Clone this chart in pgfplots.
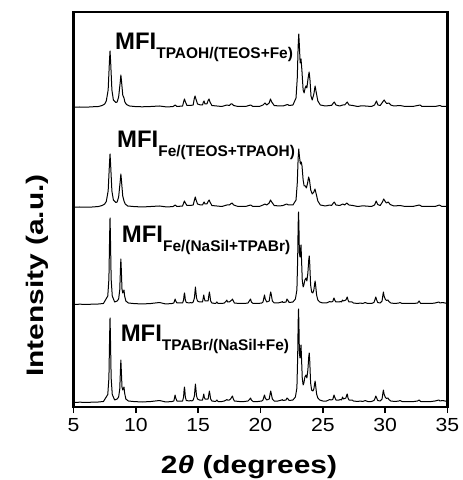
\documentclass[border=0pt]{standalone}
\usepackage{fontspec}
\setmainfont{Liberation Sans}
\usepackage{pgfplots}
\pgfplotsset{compat=1.18}
\usetikzlibrary{calc}

\newcommand{\lab}[2]{{\fontsize{24}{24}\selectfont\bfseries #1\raisebox{-9bp}{\fontsize{15.5}{16}\selectfont #2}}}

\begin{document}
\begin{tikzpicture}
\begin{axis}[
  name=ax,
  scale only axis,
  width=374bp, height=395bp,
  xmin=5, xmax=35, ymin=0, ymax=395,
  xtick={5,10,...,35},
  ytick=\empty,
  xtick pos=bottom,
  tick align=outside,
  major tick length=6bp,
  every tick/.style={black, line width=1.6bp},
  axis line style={line width=2.6bp},
  /pgf/number format/assume math mode=true,
  xticklabel={\scalebox{1.12}[1]{\pgfmathprintnumber{\tick}}},
  xticklabel style={font=\fontsize{19}{20}\selectfont, yshift=-2bp},
  clip mode=individual,
  every axis plot/.append style={black, line width=1bp, line join=round},
]

% MFI TPAOH/(TEOS+Fe)
\addplot[y filter/.expression={y+299}] coordinates {
(5,0.8)(5.5,1)(6,0.8)(6.5,1.2)(7,1.5)(7.3,2.5)(7.5,4)(7.63,7)(7.78,18)(7.88,46)(7.93,57)(7.98,46)(8.08,18)(8.2,8)(8.4,5.5)(8.5,6)(8.62,11)(8.75,26)(8.8,33)(8.85,27)(8.95,13)(9.05,10)(9.12,6)(9.25,3.5)(9.5,2)(9.9,1.5)(10.5,1.2)(11.2,1.5)(11.9,2)(12.5,1)(13.0,1.5)(13.15,3)(13.3,1.5)(13.75,2)(13.85,7)(13.9,9)(13.95,7)(14.1,2.5)(14.35,2.5)(14.6,3)(14.68,9)(14.75,12)(14.82,9)(14.95,4)(15.2,3)(15.35,3)(15.42,6)(15.47,7)(15.55,4)(15.7,4)(15.8,7.5)(15.87,9)(15.95,6)(16.1,2.5)(16.5,2)(16.9,1.5)(17.3,3)(17.5,2.5)(17.62,4)(17.72,4)(17.85,2.5)(18.2,1.5)(18.8,1.5)(19.2,3)(19.4,1.5)(19.9,1.5)(20.2,3)(20.36,5)(20.5,3)(20.7,5)(20.8,9)(20.9,6)(21.1,2.5)(21.5,2)(21.8,2)(22.17,3.5)(22.3,2.5)(22.6,3)(22.85,10)(22.95,30)(23.02,62)(23.07,74)(23.12,62)(23.18,45)(23.25,49)(23.32,38)(23.42,18)(23.5,15)(23.58,20)(23.65,22)(23.72,20)(23.82,30)(23.9,36)(23.97,28)(24.05,12)(24.15,8)(24.28,14)(24.38,22)(24.45,17)(24.6,7)(24.8,3)(25.2,2)(25.57,2.5)(25.7,2.5)(25.85,5)(25.92,6)(26.05,3)(26.35,2)(26.6,3)(26.75,3)(26.96,6)(27.1,3)(27.4,2.5)(27.8,1.5)(28.0,2)(28.4,2)(28.9,1.5)(29.15,3)(29.3,7)(29.42,3)(29.6,2.5)(29.8,6)(29.92,8)(30.02,6)(30.12,4.5)(30.3,5)(30.45,3)(30.7,2)(31.2,2.5)(31.6,1.5)(32.2,1.5)(32.8,3)(32.95,1.5)(33.5,1.5)(34.0,1.5)(34.4,2.5)(34.55,1.5)(35,1.5)
};

% MFI Fe/(TEOS+TPAOH)
\addplot[y filter/.expression={y+199}] coordinates {
(5,0.8)(5.5,1)(6,0.8)(6.5,1)(7,1.5)(7.3,2.5)(7.5,4)(7.63,6.5)(7.78,17)(7.88,43)(7.93,54)(7.98,43)(8.08,17)(8.2,8)(8.4,5.5)(8.5,6)(8.62,11)(8.75,27)(8.8,34)(8.85,27)(8.95,12)(9.05,7)(9.15,4)(9.35,2)(9.8,1.5)(10.5,1)(11.2,1.5)(11.9,2)(12.5,1)(13.0,1.5)(13.15,3)(13.3,1.5)(13.75,2)(13.85,5.5)(13.9,7)(13.95,5.5)(14.1,2.5)(14.35,2.5)(14.6,3)(14.7,8)(14.77,11)(14.83,8)(14.95,4)(15.2,3)(15.35,3)(15.43,5)(15.48,6)(15.55,4)(15.7,4)(15.8,6.5)(15.88,8)(15.95,6)(16.1,2.5)(16.5,2)(16.9,1.5)(17.3,3)(17.5,3)(17.65,4.5)(17.72,5)(17.85,3)(18.2,1.5)(18.8,1.5)(19.2,3)(19.4,1.5)(19.9,1.5)(20.2,3)(20.35,4)(20.5,3)(20.7,5)(20.8,8)(20.9,6)(21.1,2.5)(21.5,2)(21.8,2.5)(22.1,4)(22.25,3)(22.6,3)(22.85,8)(22.95,25)(23.02,50)(23.07,59)(23.12,52)(23.2,44)(23.27,46)(23.33,42)(23.42,28)(23.5,22)(23.6,22)(23.68,20)(23.78,25)(23.86,31)(23.93,28)(24.03,18)(24.15,14)(24.28,16)(24.37,19)(24.45,15)(24.6,7)(24.8,3)(25.2,2)(25.55,3)(25.7,2.5)(25.85,5)(25.92,6)(26.05,3)(26.35,2.5)(26.6,4)(26.75,3)(26.92,5)(27.1,3)(27.4,2.5)(27.8,1.5)(28.1,2)(28.4,2)(28.9,1.5)(29.15,3)(29.28,7)(29.4,3.5)(29.6,2.5)(29.78,6)(29.88,9)(29.98,7)(30.1,5)(30.25,6)(30.4,3.5)(30.7,2)(31.2,2.5)(31.6,1.5)(32.2,1.5)(32.75,3)(32.95,1.5)(33.5,1.5)(34.0,1.5)(34.35,3)(34.55,1.5)(35,1.5)
};

% MFI Fe/(NaSil+TPABr)
\addplot[y filter/.expression={y+102}] coordinates {
(5,0.5)(5.5,0.8)(6,0.6)(6.5,0.8)(7,1)(7.4,1.5)(7.75,9)(7.84,26)(7.9,70)(7.93,87)(7.96,70)(8.02,26)(8.11,9)(8.3,3)(8.5,4)(8.62,6)(8.71,15)(8.77,37)(8.8,46)(8.83,37)(8.89,16)(8.95,12)(9.0,13)(9.05,15)(9.1,9)(9.2,4)(9.4,2)(9.8,1.5)(10.5,1)(11.2,1.5)(11.9,2.5)(12.4,1)(12.9,1.5)(13.05,2)(13.1,4)(13.15,6)(13.2,4)(13.3,2)(13.75,2)(13.83,5)(13.87,10)(13.9,12)(13.93,10)(13.97,5)(14.05,2.5)(14.3,2)(14.4,2.5)(14.5,2)(14.6,3)(14.7,7)(14.75,14)(14.78,18)(14.81,14)(14.87,7)(14.95,4)(15.1,3)(15.35,3)(15.42,8)(15.45,10)(15.49,7)(15.55,4)(15.8,4)(15.86,10)(15.9,13)(15.94,10)(16.0,4)(16.1,2)(16.4,1.5)(16.5,3)(16.6,1.5)(16.9,1.5)(17.1,2)(17.25,4)(17.3,5)(17.35,3)(17.5,3)(17.6,4)(17.7,5)(17.75,6)(17.82,4)(17.9,2)(18.3,1.5)(18.7,1.5)(19.0,2)(19.15,5)(19.2,6)(19.27,3)(19.4,1.5)(19.8,1.5)(20.1,2)(20.2,3)(20.27,7)(20.32,10)(20.38,6)(20.5,3)(20.7,4)(20.77,10)(20.82,13)(20.87,10)(20.95,4)(21.1,2)(21.4,2)(21.7,3)(21.75,3.5)(21.8,2.5)(22.05,3)(22.12,6)(22.18,5)(22.3,2.5)(22.6,3)(22.8,6)(22.92,15)(22.98,45)(23.02,80)(23.05,93)(23.08,80)(23.12,52)(23.17,48)(23.21,55)(23.25,60)(23.29,46)(23.35,25)(23.42,18)(23.48,20)(23.56,25)(23.65,27)(23.72,24)(23.8,32)(23.87,45)(23.91,49)(23.95,41)(24.02,20)(24.1,13)(24.2,12)(24.28,15)(24.34,21)(24.38,24)(24.42,20)(24.5,10)(24.6,5)(24.75,3)(25.0,2)(25.3,2)(25.55,3.5)(25.65,3)(25.8,3.5)(25.86,6)(25.9,7)(25.95,5)(26.05,3)(26.3,3)(26.4,3.5)(26.5,3)(26.58,5)(26.65,4)(26.85,5)(26.92,7)(26.96,8)(27.02,5)(27.1,3)(27.35,3)(27.45,2)(27.8,1.5)(28.0,2)(28.2,1.5)(28.4,2.5)(28.6,1.5)(28.9,1.5)(29.1,2.5)(29.2,6)(29.25,8)(29.32,5)(29.4,2.5)(29.6,2)(29.75,4)(29.82,10)(29.86,13)(29.91,9)(30.0,6)(30.1,4.5)(30.22,5)(30.3,3.5)(30.45,2)(30.8,1.5)(31.1,2)(31.2,2.5)(31.35,1.5)(31.8,1.5)(32.3,1.5)(32.6,2)(32.72,4)(32.85,1.5)(33.2,1.5)(33.7,1.5)(34.0,2)(34.3,3)(34.4,2)(34.6,2.5)(34.8,2)(35,1.5)
};

% MFI TPABr/(NaSil+Fe)
\addplot[y filter/.expression={y+4}] coordinates {
(5,0.5)(5.5,0.8)(6,0.6)(6.5,0.8)(7,1)(7.4,1.5)(7.75,8.5)(7.84,25)(7.9,68)(7.93,85)(7.96,68)(8.02,25)(8.11,8.5)(8.3,3)(8.5,4)(8.62,6)(8.71,14)(8.77,34)(8.8,43)(8.83,34)(8.89,16)(8.95,13)(9.0,14)(9.05,16)(9.1,10)(9.2,4)(9.4,2)(9.8,1.5)(10.5,1)(11.2,1.5)(11.9,2.5)(12.4,1)(12.9,1.5)(13.05,2)(13.1,5)(13.15,8)(13.2,5)(13.3,2)(13.75,2)(13.83,6)(13.87,13)(13.9,16)(13.93,13)(13.97,6)(14.05,2.5)(14.3,2)(14.4,2.5)(14.5,2)(14.6,3)(14.7,7)(14.75,15)(14.78,19)(14.81,15)(14.87,7)(14.95,4)(15.1,3)(15.35,3)(15.42,7)(15.45,9)(15.49,6)(15.55,4)(15.8,4)(15.86,9)(15.9,12)(15.94,9)(16.0,4)(16.1,2)(16.4,1.5)(16.5,3)(16.6,1.5)(16.9,1.5)(17.1,2)(17.25,3)(17.3,3.5)(17.35,3)(17.5,3)(17.6,4)(17.7,6)(17.75,7)(17.82,4)(17.9,2)(18.3,1.5)(18.7,1.5)(19.0,2)(19.15,4)(19.2,5)(19.27,3)(19.4,1.5)(19.8,1.5)(20.1,2)(20.2,3)(20.27,6)(20.32,8)(20.38,5)(20.5,3)(20.7,4)(20.77,9)(20.82,12)(20.87,9)(20.95,4)(21.1,2)(21.4,2)(21.7,3)(21.75,3.5)(21.8,2.5)(22.05,3)(22.12,5)(22.18,4.5)(22.3,2.5)(22.6,3)(22.8,6)(22.92,15)(22.98,45)(23.02,80)(23.05,94)(23.08,80)(23.12,50)(23.17,45)(23.21,52)(23.25,58)(23.29,45)(23.35,25)(23.42,18)(23.48,20)(23.56,26)(23.65,28)(23.72,25)(23.8,33)(23.87,46)(23.91,50)(23.95,42)(24.02,20)(24.1,13)(24.2,12)(24.28,14)(24.34,19)(24.38,22)(24.42,18)(24.5,9)(24.6,5)(24.75,3)(25.0,2)(25.3,2)(25.55,3.5)(25.65,3)(25.8,3.5)(25.86,6.5)(25.9,8)(25.95,6)(26.05,3)(26.3,3)(26.4,3.5)(26.5,3)(26.58,6)(26.65,4)(26.85,5)(26.92,8)(26.96,9)(27.02,5)(27.1,3)(27.35,3)(27.45,2)(27.8,1.5)(28.0,2)(28.2,1.5)(28.4,2.5)(28.6,1.5)(28.9,1.5)(29.1,2.5)(29.2,5)(29.25,7)(29.32,5)(29.4,2.5)(29.6,2)(29.75,4)(29.82,10)(29.86,13)(29.91,9)(30.0,6)(30.1,4.5)(30.22,5)(30.3,3.5)(30.45,2)(30.8,1.5)(31.1,2)(31.2,2.5)(31.35,1.5)(31.8,1.5)(32.3,1.5)(32.6,2)(32.72,3)(32.85,1.5)(33.2,1.5)(33.7,1.5)(34.0,2)(34.3,3)(34.4,2)(34.6,2.5)(34.8,2)(35,1.5)
};

\node[anchor=base west, inner sep=0] at (axis cs:8.33,357) {\lab{MFI}{TPAOH/(TEOS+Fe)}};
\node[anchor=base west, inner sep=0] at (axis cs:8.49,259) {\lab{MFI}{Fe/(TEOS+TPAOH)}};
\node[anchor=base west, inner sep=0] at (axis cs:8.87,164) {\lab{MFI}{Fe/(NaSil+TPABr)}};
\node[anchor=base west, inner sep=0] at (axis cs:8.78,66) {\lab{MFI}{TPABr/(NaSil+Fe)}};
\end{axis}

\node[anchor=base, inner sep=0] at ($(ax.south west)+(175.5bp,-66bp)$)
  {\fontsize{25}{26}\selectfont\bfseries\scalebox{1.2}[1]{2\textit{θ} (degrees)}};
\node[anchor=base, inner sep=0, rotate=90] at ($(ax.south west)+(-30bp,131.5bp)$)
  {\fontsize{24}{26}\selectfont\bfseries\scalebox{1.25}[1]{Intensity (a.u.)}};

\path ($(ax.south west)+(-73.5bp,-73bp)$) rectangle ($(ax.north east)+(14.5bp,12bp)$);
\end{tikzpicture}
\end{document}
